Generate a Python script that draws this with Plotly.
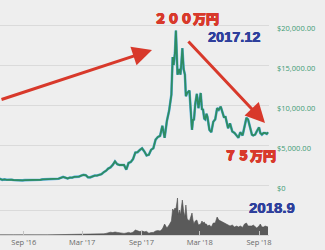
import plotly.graph_objects as go

dates = ["2016-06-12","2016-06-19","2016-06-26","2016-07-03","2016-07-10","2016-07-17","2016-07-24","2016-07-31",
"2016-08-07","2016-08-14","2016-08-21","2016-08-28","2016-09-04","2016-09-11","2016-09-18","2016-09-25",
"2016-10-02","2016-10-09","2016-10-16","2016-10-23","2016-10-30","2016-11-06","2016-11-13","2016-11-20",
"2016-11-27","2016-12-04","2016-12-11","2016-12-18","2016-12-25","2017-01-01","2017-01-08","2017-01-15",
"2017-01-22","2017-01-29","2017-02-05","2017-02-12","2017-02-19","2017-02-26","2017-03-05","2017-03-12",
"2017-03-19","2017-03-26","2017-04-02","2017-04-09","2017-04-16","2017-04-23","2017-04-30","2017-05-07",
"2017-05-14","2017-05-21","2017-05-28","2017-06-04","2017-06-11","2017-06-18","2017-06-25","2017-07-02",
"2017-07-09","2017-07-16","2017-07-23","2017-07-30","2017-08-06","2017-08-13","2017-08-20","2017-08-27",
"2017-09-03","2017-09-10","2017-09-17","2017-09-24","2017-10-01","2017-10-08","2017-10-15","2017-10-22",
"2017-10-29","2017-11-05","2017-11-12","2017-11-19","2017-11-26","2017-12-03","2017-12-07","2017-12-10",
"2017-12-14","2017-12-17","2017-12-20","2017-12-22","2017-12-24","2017-12-28","2017-12-31","2018-01-03",
"2018-01-06","2018-01-10","2018-01-14","2018-01-17","2018-01-21","2018-01-28","2018-02-02","2018-02-05",
"2018-02-08","2018-02-11","2018-02-15","2018-02-20","2018-02-25","2018-03-04","2018-03-08","2018-03-11",
"2018-03-15","2018-03-18","2018-03-22","2018-03-25","2018-03-31","2018-04-06","2018-04-12","2018-04-18",
"2018-04-24","2018-04-29","2018-05-05","2018-05-10","2018-05-15","2018-05-20","2018-05-28","2018-06-03",
"2018-06-10","2018-06-17","2018-06-24","2018-06-29","2018-07-05","2018-07-12","2018-07-18","2018-07-24",
"2018-07-29","2018-08-05","2018-08-10","2018-08-14","2018-08-20","2018-08-25","2018-09-01","2018-09-05",
"2018-09-10","2018-09-15","2018-09-20","2018-09-25","2018-09-29"]

price_usd = [680,760,650,700,650,680,655,625,
590,570,580,575,608,606,610,602,
612,618,640,655,700,710,705,730,
735,765,770,790,895,1000,910,820,
920,915,1020,1000,1050,1170,1270,1230,
970,960,1100,1180,1180,1250,1350,1600,
1770,2050,2200,2520,2950,2600,2500,2500,
2500,1930,2750,2870,3230,4050,4100,4380,
4580,4200,3700,3780,4400,4600,5680,6000,
6150,7400,5900,8000,9300,11300,16000,15000,
16500,19300,16500,13800,14000,14500,13800,15200,
17100,14500,13800,11100,11500,11800,8800,6900,
8200,8100,10100,11400,9600,11500,9400,9500,
8300,8200,8900,8500,6900,6600,7900,8200,
9600,9400,9800,9000,8500,8500,7100,7700,
6700,6500,6100,5900,6600,6200,7300,8400,
8200,7000,6300,6200,6300,6700,7200,6500,
6300,6500,6500,6400,6600]

volume_busd = [0.1,0.15,0.1,0.1,0.08,0.07,0.07,0.08,
0.1,0.07,0.06,0.06,0.07,0.06,0.06,0.06,
0.06,0.06,0.07,0.07,0.1,0.08,0.08,0.09,
0.08,0.08,0.08,0.09,0.15,0.2,0.25,0.1,
0.1,0.1,0.15,0.12,0.12,0.2,0.3,0.3,
0.4,0.3,0.3,0.3,0.25,0.3,0.4,0.6,
0.8,1.2,1.4,1.2,1.5,1.3,1.1,0.9,
0.8,1.0,1.3,1.0,1.4,2.5,2.2,1.7,
2.0,1.6,1.8,0.9,1.2,1.3,2.0,2.2,
2.0,3.0,5.5,3.5,5.0,7.0,13.0,12.0,
13.5,13.0,16.0,18.5,10.0,12.5,10.0,16.0,
17.5,12.0,9.0,15.0,8.0,7.0,9.5,11.0,
7.5,5.5,7.0,7.5,5.0,5.5,7.0,6.0,
6.5,5.5,5.5,4.5,5.0,4.0,6.0,6.0,
9.0,7.5,7.0,6.5,6.0,5.5,5.0,4.5,
5.0,4.0,4.5,4.0,4.5,3.8,5.5,6.0,
4.5,4.5,4.5,5.0,4.0,3.5,4.5,5.5,
4.0,4.0,4.5,4.2,4.0]

price_ticks = [0, 5000, 10000, 15000, 20000]
price_tick_text = ["$0", "$5,000.00", "$10,000.00", "$15,000.00", "$20,000.00"]
x_ticks = ["2016-09-01", "2017-03-01", "2017-09-01", "2018-03-01", "2018-09-01"]
x_tick_text = ["Sep '16", "Mar '17", "Sep '17", "Mar '18", "Sep '18"]

BG = "#eeeeee"
GRID = "#dadada"
RED = "#d8392b"
BLUE = "#2e3f9c"

fig = go.Figure()
fig.add_trace(go.Scatter(x=dates, y=price_usd, mode="lines", xaxis="x", yaxis="y",
                         line=dict(color="#5aaee0", width=2.6), hoverinfo="skip"))
fig.add_trace(go.Scatter(x=dates, y=price_usd, mode="lines", xaxis="x", yaxis="y",
                         line=dict(color="#2e8c62", width=1.8), hoverinfo="skip"))
fig.add_trace(go.Scatter(x=dates, y=volume_busd, mode="lines", xaxis="x", yaxis="y2",
                         fill="tozeroy", fillcolor="#5a5a5a",
                         line=dict(color="#4f4f4f", width=0.6), hoverinfo="skip"))

split = 50 / 235
fig.update_layout(
    width=325, height=250,
    margin=dict(l=0, r=56, t=0, b=15),
    paper_bgcolor=BG, plot_bgcolor=BG,
    showlegend=False,
    xaxis=dict(type="date", range=["2016-06-19", "2018-10-02"], anchor="y2",
               tickvals=x_ticks, ticktext=x_tick_text, showgrid=False,
               showline=True, linecolor="#d4d4d4", linewidth=1,
               ticks="inside", ticklen=4, tickcolor="#c4c4c4",
               tickfont=dict(family="Open Sans", size=7.5, color="#6a6a6a")),
    yaxis=dict(domain=[split, 1], range=[0, 23125], side="right", anchor="x",
               tickvals=price_ticks, ticktext=price_tick_text,
               showgrid=True, gridcolor=GRID, gridwidth=1,
               zeroline=True, zerolinecolor=GRID, zerolinewidth=1,
               ticks="", ticklabelstandoff=7, ticklabelshift=3,
               tickfont=dict(family="Open Sans", size=7.5, color="#3d9b74")),
    yaxis2=dict(domain=[0, split], range=[0, 25], anchor="x",
                tickvals=[12.5], showticklabels=False,
                showgrid=True, gridcolor=GRID, zeroline=False, ticks=""),
)

def px(xp):
    return xp / 269

def py(yp):
    return (235 - yp) / 235

cjk = "Noto Sans CJK JP"
red_thick = f"0.5px 0 0 {RED}, -0.5px 0 0 {RED}, 0 0.5px 0 {RED}, 0 -0.5px 0 {RED}"
blue_thick = f"0.3px 0 0 {BLUE}, -0.3px 0 0 {BLUE}"

def label(xp, yp, text, family, size, color, shadow):
    fig.add_annotation(x=px(xp), y=py(yp), xref="paper", yref="paper", text=text,
                       xanchor="center", yanchor="middle", showarrow=False,
                       font=dict(family=family, size=size, color=color, weight=900, shadow=shadow))

label(186.5, 17, "２００万円", cjk, 13, RED, red_thick)
label(233.5, 37.5, "2017.12", "Liberation Sans", 14.5, BLUE, blue_thick)
label(249.5, 154, "７５万円", cjk, 13, RED, red_thick)
label(272, 207.5, "2018.9", "Liberation Sans", 15, BLUE, blue_thick)

fig.add_annotation(x=px(152), y=py(50), xref="paper", yref="paper", text="",
                   showarrow=True, ax=-158, ay=50, arrowcolor=RED, arrowwidth=3,
                   arrowhead=2, arrowsize=1.3)
fig.add_annotation(x=px(265), y=py(123), xref="paper", yref="paper", text="",
                   showarrow=True, ax=-78, ay=-83, arrowcolor=RED, arrowwidth=3,
                   arrowhead=2, arrowsize=1.3)

fig.write_html("out.html")
